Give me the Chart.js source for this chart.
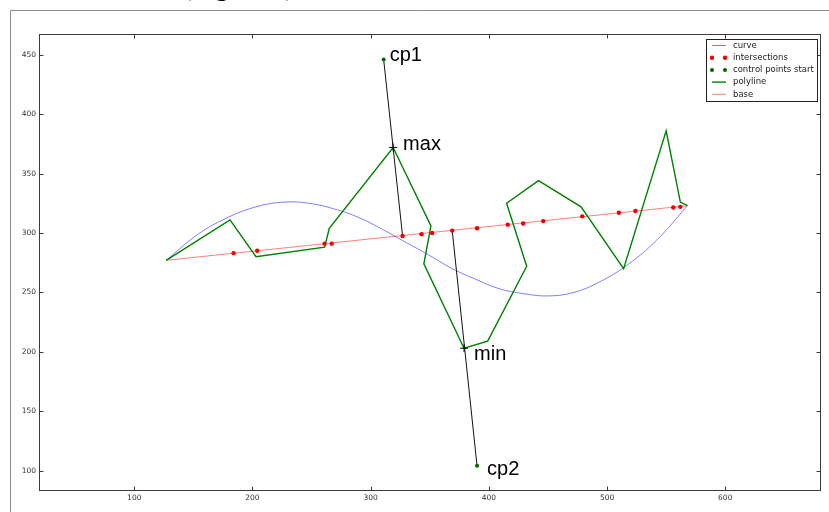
<!DOCTYPE html>
<html><head><meta charset="utf-8">
<script src="https://cdn.jsdelivr.net/npm/chart.js@4/dist/chart.umd.min.js"></script>
<style>html,body{margin:0;padding:0;background:#fff;}#wrap{width:829px;height:512px;position:relative;overflow:hidden}</style>
</head><body><div id="wrap"><canvas id="c" width="829" height="512"></canvas></div>
<script>
// ---- data ----
const curveX = [127,154,179,203,226,248,270,290,310,330,350,369,389,409,429,450,472,494,517,542,568];
const curveY = [277,299,313,322,326,325,320,313,303,292,281,270,261,253,249,247,250,259,273,294,323];

const interX = [184,204,261,267,327,343,352,369,390,416,429,446,479,510,524,556,562];
const interY = [283,285,291,291,297.5,299,300,302,304,307,308,310,314,317,318.5,321.5,322];

const ctrlX = [311,390];
const ctrlY = [446,104];

const polyX = [127,181,203,261,265,319,351,345,379,399,432,415,442,478,514,550,562,568];
const polyY = [277,311,280,288,304,372,306,274,203,209,272,325,344,322,270,386,326,323];

const baseX = [127,568];
const baseY = [277,323];

const guide1X = [311,327]; const guide1Y = [446,297.5];
const guide2X = [390,369]; const guide2Y = [104,302];

const markX = [319,379]; const markY = [372,203];
const markLabels = ['max','min'];
const ctrlLabels = ['cp1','cp2'];

const xTicks = [100,200,300,400,500,600];
const yTicks = [100,150,200,250,300,350,400,450];

const seriesNames = ['curve','intersections','control points start','polyline','base'];

const pts = (xs, ys) => xs.map((x,i)=>({x, y: ys[i]}));

// ---- plugins ----
const framePlugin = {
  id: 'frame',
  beforeDraw(chart){
    const ctx = chart.ctx;
    ctx.save();
    ctx.fillStyle = '#fff';
    ctx.fillRect(0,0,chart.width,chart.height);
    // window border
    ctx.strokeStyle = '#8c8c8c';
    ctx.lineWidth = 1;
    ctx.beginPath();
    ctx.moveTo(10.5, chart.height); ctx.lineTo(10.5, 10.5); ctx.lineTo(chart.width, 10.5);
    ctx.stroke();
    // clipped caption above
    ctx.fillStyle = '#000';
    ctx.font = '28px "Liberation Serif"';
    ctx.textBaseline = 'alphabetic';
    ctx.textAlign = 'left';
    ctx.fillText('(Figure 1)', 182, -5);
    ctx.restore();
  },
  afterDraw(chart){
    const ctx = chart.ctx, a = chart.chartArea;
    const xs = chart.scales.x, ys = chart.scales.y;
    ctx.save();
    ctx.strokeStyle = '#3a3a3a';
    ctx.lineWidth = 1;
    const L = Math.round(a.left)+0.5, R = Math.round(a.right)-0.5, T = Math.round(a.top)+0.5, B = Math.round(a.bottom)-0.5;
    ctx.strokeRect(L, T, R-L, B-T);
    ctx.beginPath();
    xTicks.forEach(v=>{
      const p = Math.round(xs.getPixelForValue(v))+0.5;
      ctx.moveTo(p,B); ctx.lineTo(p,B-4);
      ctx.moveTo(p,T); ctx.lineTo(p,T+4);
    });
    yTicks.forEach(v=>{
      const p = Math.round(ys.getPixelForValue(v))+0.5;
      ctx.moveTo(L,p); ctx.lineTo(L+4,p);
      ctx.moveTo(R,p); ctx.lineTo(R-4,p);
    });
    ctx.stroke();

    // annotations
    ctx.fillStyle = '#000';
    ctx.font = '20px "Liberation Sans"';
    ctx.textAlign = 'left';
    ctx.textBaseline = 'alphabetic';
    const offC = [[6,1],[10,9]];
    ctrlLabels.forEach((t,i)=>{
      ctx.fillText(t, xs.getPixelForValue(ctrlX[i])+offC[i][0], ys.getPixelForValue(ctrlY[i])+offC[i][1]);
    });
    const offM = [[10,3],[10,12]];
    markLabels.forEach((t,i)=>{
      ctx.fillText(t, xs.getPixelForValue(markX[i])+offM[i][0], ys.getPixelForValue(markY[i])+offM[i][1]);
    });

    // legend
    const bx = 706.5, by = 39.5, bw = 111, bh = 62;
    ctx.fillStyle = '#fff';
    ctx.fillRect(bx,by,bw,bh);
    ctx.strokeStyle = '#222';
    ctx.strokeRect(bx,by,bw,bh);
    ctx.font = '8.5px "DejaVu Sans"';
    ctx.textBaseline = 'middle';
    seriesNames.forEach((name,i)=>{
      const ds = chart.data.datasets[i];
      const y = 45.5 + i*12.2;
      if (ds.showLine){
        ctx.strokeStyle = ds.borderColor;
        ctx.lineWidth = ds.borderWidth;
        ctx.beginPath(); ctx.moveTo(712,y); ctx.lineTo(726,y); ctx.stroke();
      } else {
        ctx.fillStyle = ds.backgroundColor;
        [712,725].forEach(px=>{ctx.beginPath(); ctx.arc(px,y,ds.pointRadius,0,Math.PI*2); ctx.fill();});
      }
      ctx.fillStyle = '#222';
      ctx.fillText(name, 733, y);
    });
    ctx.restore();
  }
};

const chart = new Chart(document.getElementById('c'), {
  type: 'scatter',
  data: {
    datasets: [
      {label: seriesNames[0], data: pts(curveX,curveY), showLine:true, borderColor:'rgba(0,0,255,0.5)', borderWidth:1, pointRadius:0, tension:0.4, order:6},
      {label: seriesNames[1], data: pts(interX,interY), showLine:false, backgroundColor:'#ee0000', borderColor:'#ee0000', borderWidth:0, pointRadius:2.2, order:1},
      {label: seriesNames[2], data: pts(ctrlX,ctrlY), showLine:false, backgroundColor:'#006400', borderColor:'#006400', borderWidth:0, pointRadius:2, order:2},
      {label: seriesNames[3], data: pts(polyX,polyY), showLine:true, borderColor:'#008000', borderWidth:1.4, pointRadius:0, tension:0, order:4},
      {label: seriesNames[4], data: pts(baseX,baseY), showLine:true, borderColor:'rgba(255,0,0,0.5)', borderWidth:1, pointRadius:0, order:5},
      {label: '', data: pts(guide1X,guide1Y), showLine:true, borderColor:'#111', borderWidth:1, pointRadius:0, order:3},
      {label: '', data: pts(guide2X,guide2Y), showLine:true, borderColor:'#111', borderWidth:1, pointRadius:0, order:3},
      {label: '', data: pts(markX,markY), showLine:false, pointStyle:'crossRot', rotation:45, borderColor:'#000', borderWidth:1, pointRadius:4, order:2}
    ]
  },
  options: {
    responsive:false, animation:false, devicePixelRatio:1,
    layout:{padding:{left:0, top:34, right:8, bottom:0}},
    plugins:{legend:{display:false}, tooltip:{enabled:false}},
    scales:{
      x:{type:'linear', min:19.4, max:681,
         afterBuildTicks: s => { s.ticks = xTicks.map(v=>({value:v})); },
         afterFit: s => { s.height = 21; },
         grid:{display:false, drawTicks:false}, border:{display:false},
         ticks:{font:{family:'DejaVu Sans', size:7.5}, color:'#333', padding:3, maxRotation:0}},
      y:{type:'linear', min:82.8, max:467.5,
         afterBuildTicks: s => { s.ticks = yTicks.map(v=>({value:v})); },
         afterFit: s => { s.width = 39; },
         grid:{display:false, drawTicks:false}, border:{display:false},
         ticks:{font:{family:'DejaVu Sans', size:7.5}, color:'#333', padding:3}}
    }
  },
  plugins:[framePlugin]
});
</script></body></html>
